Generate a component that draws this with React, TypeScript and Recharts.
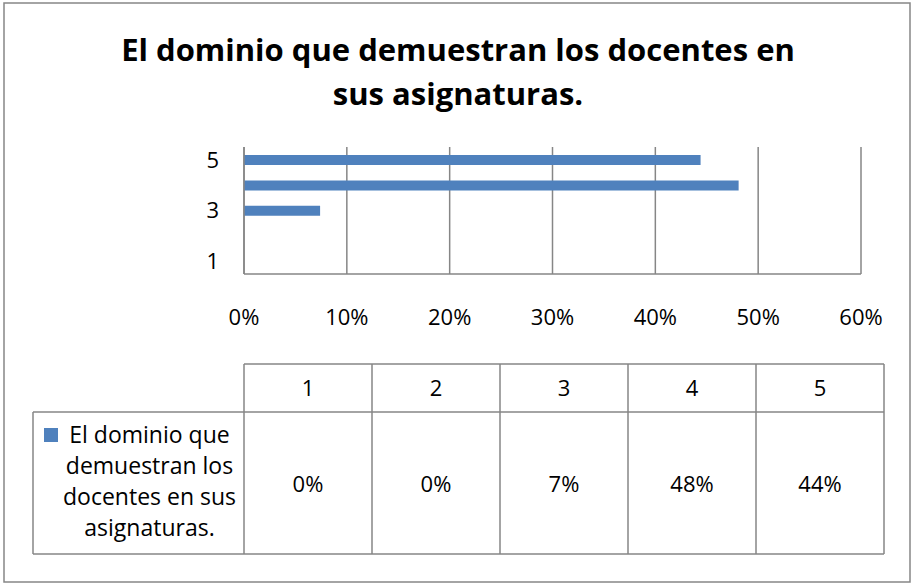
import React from "react";
import { BarChart, Bar, XAxis, YAxis, CartesianGrid } from "recharts";

const categories = ["1", "2", "3", "4", "5"];
const values = [0, 0, 0.074, 0.481, 0.444];
const xTicks = [0, 0.1, 0.2, 0.3, 0.4, 0.5, 0.6];
const titleLines = ["El dominio que demuestran los docentes en", "sus asignaturas."];
const legendLines = ["El dominio que", "demuestran los", "docentes en sus", "asignaturas."];

const data = categories.map((c, i) => ({ cat: c, v: values[i] }));
const pct = (v: number) => `${Math.round(v * 100)}%`;

const FONT = "'Open Sans', 'Liberation Sans', sans-serif";
const GRID = "#868686";
const BAR = "#4F81BD";

export default function App() {
  const colW = 128;
  const tableLeft = 244;
  const headTop = 364;
  const headBot = 412;
  const rowBot = 554;
  const legendLeft = 33;
  return (
    <div style={{ position: "relative", width: 914, height: 584, background: "#fff", fontFamily: FONT }}>
      <style>{"body{margin:0}"}</style>
      <BarChart
        width={914}
        height={584}
        data={data}
        layout="vertical"
        margin={{ top: 147, right: 53, bottom: 250, left: 200 }}
      >
        <CartesianGrid horizontal={false} vertical={true} stroke={GRID} strokeWidth={1.5} />
        <XAxis
          type="number"
          domain={[0, 0.6]}
          ticks={xTicks}
          tickFormatter={pct}
          axisLine={{ stroke: GRID, strokeWidth: 1.5 }}
          tickLine={false}
          tickSize={0}
          tickMargin={35}
          height={60}
          tick={{ fontSize: 22, fill: "#000", fontFamily: FONT }}
        />
        <YAxis
          type="category"
          dataKey="cat"
          reversed
          interval={1}
          width={44}
          axisLine={{ stroke: GRID, strokeWidth: 1.5 }}
          tickLine={false}
          tickSize={0}
          tickMargin={25}
          tick={{ fontSize: 22, fill: "#000", fontFamily: FONT }}
        />
        <Bar dataKey="v" fill={BAR} barSize={10} isAnimationActive={false} />
      </BarChart>
      <svg
        width={914}
        height={584}
        style={{ position: "absolute", left: 0, top: 0, pointerEvents: "none" }}
      >
        <rect x={4} y={3} width={906} height={579} fill="none" stroke={GRID} strokeWidth={1.5} />
        {titleLines.map((t, i) => (
          <text
            key={i}
            x={458}
            y={61 + i * 44}
            textAnchor="middle"
            fontFamily={FONT}
            fontWeight={700}
            fontSize={31}
            fill="#000"
          >
            {t}
          </text>
        ))}
        {/* data table */}
        <g stroke={GRID} strokeWidth={1.5} fill="none">
          <line x1={tableLeft} y1={headTop} x2={tableLeft + colW * 5} y2={headTop} />
          <line x1={legendLeft} y1={headBot} x2={tableLeft + colW * 5} y2={headBot} />
          <line x1={legendLeft} y1={rowBot} x2={tableLeft + colW * 5} y2={rowBot} />
          <line x1={legendLeft} y1={headBot} x2={legendLeft} y2={rowBot} />
          {categories.map((_, i) => (
            <line key={i} x1={tableLeft + colW * i} y1={headTop} x2={tableLeft + colW * i} y2={rowBot} />
          ))}
          <line x1={tableLeft + colW * 5} y1={headTop} x2={tableLeft + colW * 5} y2={rowBot} />
        </g>
        {categories.map((c, i) => (
          <text
            key={"h" + i}
            x={tableLeft + colW * i + colW / 2}
            y={396}
            textAnchor="middle"
            fontFamily={FONT}
            fontSize={22}
            fill="#000"
          >
            {c}
          </text>
        ))}
        {values.map((v, i) => (
          <text
            key={"v" + i}
            x={tableLeft + colW * i + colW / 2}
            y={492}
            textAnchor="middle"
            fontFamily={FONT}
            fontSize={22}
            fill="#000"
          >
            {pct(v)}
          </text>
        ))}
        <rect x={44} y={428} width={14} height={14} fill={BAR} />
        {legendLines.map((t, i) => (
          <text
            key={"l" + i}
            x={149.5}
            y={443 + i * 31}
            textAnchor="middle"
            fontFamily={FONT}
            fontSize={23}
            fill="#000"
          >
            {t}
          </text>
        ))}
      </svg>
    </div>
  );
}
